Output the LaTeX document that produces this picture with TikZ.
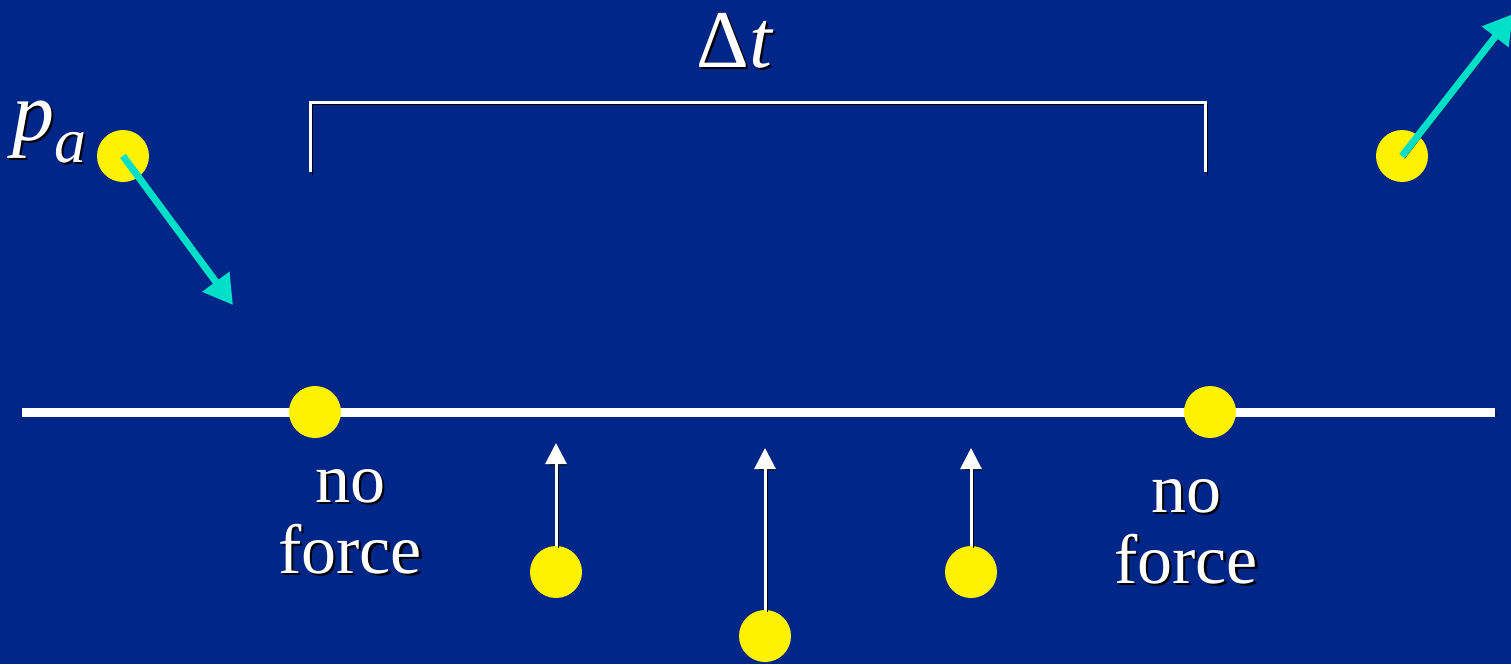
\documentclass[tikz,border=0pt]{standalone}
\usepackage{fontspec}
\setmainfont{Liberation Serif}
\usetikzlibrary{arrows.meta}
\definecolor{slide}{RGB}{0,38,136}
\definecolor{ballc}{RGB}{255,242,0}
\definecolor{momc}{RGB}{0,224,200}
% text with a black drop shadow
\newcommand\shd[1]{\leavevmode\rlap{\kern2.5pt\raisebox{-2.5pt}{\color{black}#1}}#1}

\begin{document}
\begin{tikzpicture}[x=1pt, y=-1pt,
  ball/.style={circle,fill=ballc,minimum size=52pt,inner sep=0pt},
  shadow/.style={preaction={draw=black,transform canvas={shift={(2.5pt,-2.5pt)}}}},
  lbl/.style={text=white,inner sep=0pt,align=center,font=\fontsize{70}{71}\selectfont},
  mom/.style={draw=momc,line width=7pt,-{Triangle[width=32pt,length=29pt]},shadow},
  push/.style={draw=white,line width=3pt,-{Triangle[width=21pt,length=21pt]},shadow}]
  \useasboundingbox (0,0) rectangle (1511,664);
  \clip (0,0) rectangle (1511,664);
  \fill[slide] (0,0) rectangle (1511,664);
  % collision time bracket
  \coordinate (brL) at (310,172);
  \coordinate (brR) at (1205,172);
  \draw[white,line width=3pt,shadow] (brL) -- ++(0,-70) -| (brR);
  \node[text=white,inner sep=0pt,anchor=base] (dt) at (735,67)
    {\fontsize{82}{82}\selectfont\shd{Δ\textit{t}}};
  % wall
  \coordinate (axL) at (22,412);
  \coordinate (axR) at (1495,412);
  \draw[white,line width=9pt,shadow] (axL) -- (axR);
  \node[ball] (hit1) at (315,412) {};
  \node[ball] (hit2) at (1210,412) {};
  \node[lbl,anchor=base] (nf1) at (350,573) {\shd{no}\\\shd{force}};
  \node[lbl,anchor=base] (nf2) at (1186,583) {\shd{no}\\\shd{force}};
  % incoming and outgoing particle
  \node[ball] (pin) at (123,156) {};
  \node[ball] (pout) at (1402,156) {};
  \coordinate (pinE) at (233,305);
  \coordinate (poutE) at (1513,14);
  \draw[mom] (pin.center) -- (pinE);
  \draw[mom] (pout.center) -- (poutE);
  \node[text=white,inner sep=0pt,anchor=base west] (plab) at (12,140)
    {\fontsize{84}{84}\selectfont\shd{\textit{p}\raisebox{-22pt}{\fontsize{64}{64}\selectfont\textit{a}}}};
  % wall particles pushing back
  \node[ball] (w1) at (556,572) {};
  \node[ball] (w2) at (765,636) {};
  \node[ball] (w3) at (971,572) {};
  \coordinate (tip1) at (556,443);
  \coordinate (tip2) at (765,448);
  \coordinate (tip3) at (971,448);
  \draw[push] (w1.north) -- (tip1);
  \draw[push] (w2.north) -- (tip2);
  \draw[push] (w3.north) -- (tip3);
\end{tikzpicture}
\end{document}
